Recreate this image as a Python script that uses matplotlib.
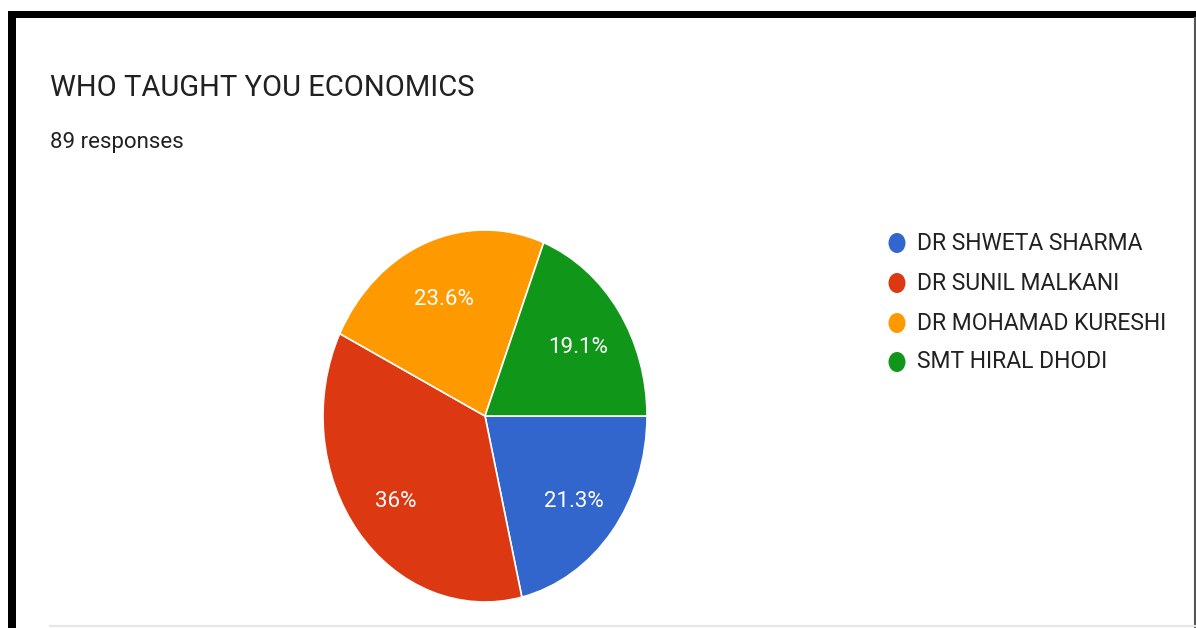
import matplotlib
matplotlib.use('Agg')
import matplotlib.pyplot as plt
import matplotlib.transforms as mtransforms
from matplotlib.patches import Rectangle, Ellipse
from matplotlib.lines import Line2D

plt.rcParams['font.family'] = ['Roboto', 'DejaVu Sans']

W, H = 1196, 628

title = 'WHO TAUGHT YOU ECONOMICS'
subtitle = '89 responses'
teachers = ['DR SHWETA SHARMA', 'DR SUNIL MALKANI', 'DR MOHAMAD KURESHI', 'SMT HIRAL DHODI']
counts = [19, 32, 21, 17]
colors = ['#3366cc', '#dc3912', '#ff9900', '#109618']


def fx(px):
    return px / W


def fy(py):
    return 1 - py / H


fig = plt.figure(figsize=(W / 100, H / 100), dpi=100)
fig.patch.set_facecolor('white')

# frame from the screenshot
fig.add_artist(Rectangle((fx(8), fy(18)), fx(W - 8), 7 / H, transform=fig.transFigure,
                         facecolor='black', edgecolor='none'))
fig.add_artist(Rectangle((fx(8), 0), 8 / W, fy(11), transform=fig.transFigure,
                         facecolor='black', edgecolor='none'))
fig.add_artist(Line2D([fx(1195), fx(1195)], [0, fy(18)], transform=fig.transFigure,
                      color='#555555', lw=1.5))
fig.add_artist(Line2D([fx(50), 1], [fy(626), fy(626)], transform=fig.transFigure,
                      color='#e6e6e6', lw=1.5))

fig.text(fx(50), fy(88), title, fontsize=21, color='#212121', va='center', ha='left')
fig.text(fx(50), fy(142), subtitle, fontsize=16, color='#212121', va='center', ha='left')

# pie is drawn squashed like the original screenshot (taller than wide)
cx, cy, rx, ry = 485, 416, 162, 186
ax = fig.add_axes([fx(cx - rx), fy(cy + ry), 2 * rx / W, 2 * ry / H])
wedges, texts, autotexts = ax.pie(
    counts, colors=colors, startangle=0, counterclock=False,
    autopct=lambda p: ('%.1f%%' % p).replace('.0%', '%'),
    pctdistance=0.7, radius=1,
    wedgeprops=dict(edgecolor='white', linewidth=1.2),
    textprops=dict(color='white', fontsize=16))
# the original labels sit a few pixels low
for t in autotexts:
    t.set_transform(mtransforms.offset_copy(ax.transData, fig=fig, y=-5, units='dots'))
ax.set_aspect('auto')
ax.set_xlim(-1, 1)
ax.set_ylim(-1, 1)
ax.axis('off')

# legend
leg_y = [243, 283, 323, 362]
for name, col, y in zip(teachers, colors, leg_y):
    fig.add_artist(Ellipse((fx(897), fy(y)), 17 / W, 20 / H, transform=fig.transFigure,
                           facecolor=col, edgecolor='none'))
    fig.text(fx(917), fy(y), name, fontsize=16.5, color='#212121', va='center', ha='left')

fig.savefig('out.png', dpi=100)
